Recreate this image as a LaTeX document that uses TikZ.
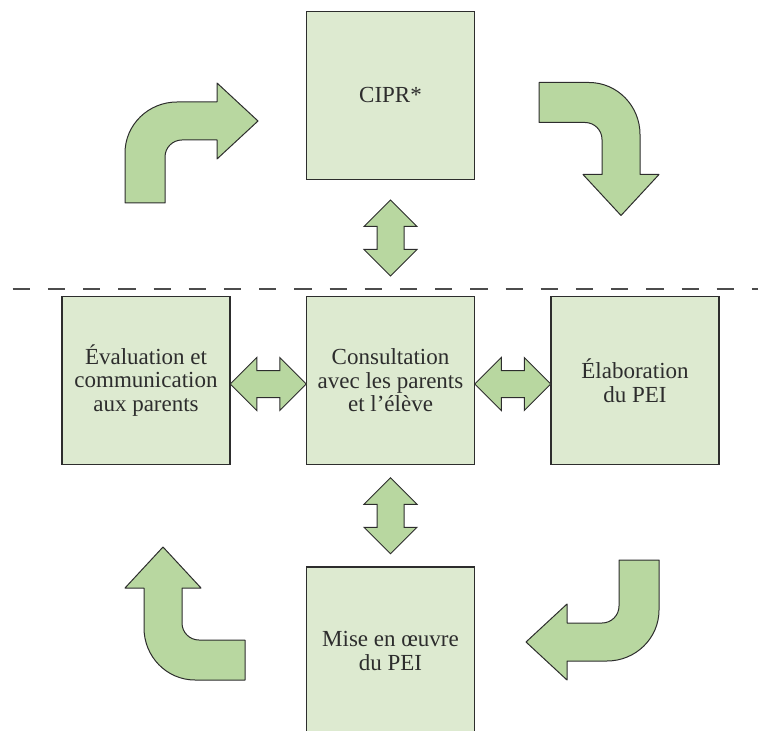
\documentclass[tikz,border=0pt]{standalone}
\usepackage{fontspec}
\setmainfont{Liberation Serif}
\usetikzlibrary{shapes.arrows,calc}
\definecolor{boxgreen}{RGB}{221,234,208}
\definecolor{arrowgreen}{RGB}{184,215,160}
\definecolor{edgegray}{RGB}{45,45,45}
\tikzset{
  stage/.style={draw=edgegray,line width=0.6pt,fill=boxgreen,minimum width=84pt,minimum height=84pt,
    inner sep=0pt,align=center,text=edgegray,font=\fontsize{11.5}{11.75}\selectfont},
  link/.style={double arrow,draw=edgegray,line width=0.5pt,fill=arrowgreen,minimum height=38pt,
    inner xsep=0pt,inner ysep=6.5pt,double arrow head extend=6.5pt,double arrow tip angle=90},
  turnarrow/.style={draw=edgegray,line width=0.5pt,fill=arrowgreen,line join=round},
  divider/.style={draw=edgegray!85,line width=0.65pt,dash pattern=on 8.6pt off 9pt}
}
\begin{document}
\begin{tikzpicture}[x=0.5pt,y=-0.5pt]
\useasboundingbox (0,0) rectangle (758,731);
\clip (0,0) rectangle (758,731);
% bent arrows round the cycle
\foreach \cx/\cy/\ang in {191.5/143/0,599/149/-90,592.5/620/180,185/613.5/90} {
  \begin{scope}[shift={(\cx,\cy)},rotate=\ang]
  \draw[turnarrow] (-66.5,60) -- (-26.5,60) -- (-26.5,14)
    .. controls (-26.5,4.6) and (-18.9,-3) .. (-9.5,-3) -- (25.5,-3) -- (25.5,16)
    -- (66.5,-22) -- (25.5,-60) -- (25.5,-41) -- (-14.5,-41)
    .. controls (-43,-41) and (-66.5,-18.4) .. (-66.5,10) -- cycle;
  \end{scope}
}
% stages
\node[stage] (cipr) at (390.5,95.5) {CIPR*};
\node[stage] (eval) at (146,380.5) {Évaluation et\\communication\\aux parents};
\node[stage] (cons) at (390.5,380.5) {Consultation\\avec les parents\\et l’élève};
\node[stage] (elab) at (635,380.5) {Élaboration\\du PEI};
\node[stage] (mise) at (390.5,651) {Mise en œuvre\\du PEI};
\draw[divider] (12.7,289) -- (758,289);
% two-way links
\node[link,rotate=90] (l1) at ($(cipr.south)!0.5!(cons.north)$) {};
\node[link,yshift=-1.75pt] (l2) at ($(eval.east)!0.5!(cons.west)$) {};
\node[link,yshift=-1.75pt] (l3) at ($(cons.east)!0.5!(elab.west)$) {};
\node[link,rotate=90] (l4) at ($(cons.south)!0.5!(mise.north)$) {};
\end{tikzpicture}
\end{document}
